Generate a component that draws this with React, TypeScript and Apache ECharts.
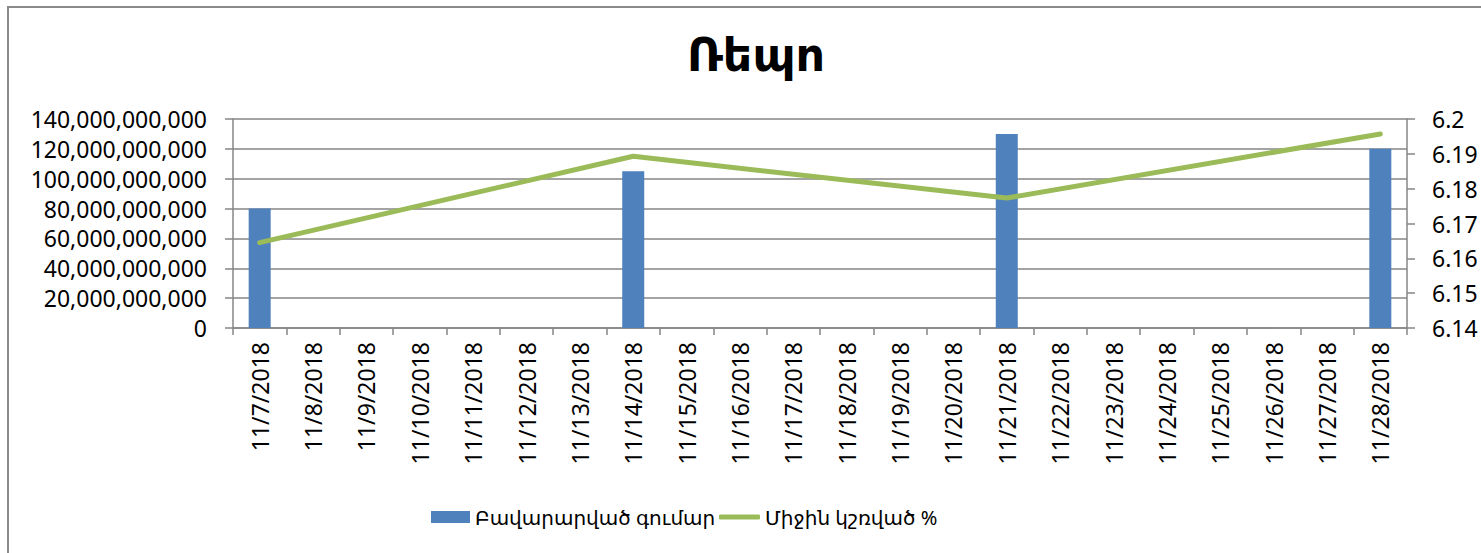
import React, { useEffect, useRef } from "react";
import * as echarts from "echarts";

const categories = [
  "11/7/2018", "11/8/2018", "11/9/2018", "11/10/2018", "11/11/2018", "11/12/2018",
  "11/13/2018", "11/14/2018", "11/15/2018", "11/16/2018", "11/17/2018", "11/18/2018",
  "11/19/2018", "11/20/2018", "11/21/2018", "11/22/2018", "11/23/2018", "11/24/2018",
  "11/25/2018", "11/26/2018", "11/27/2018", "11/28/2018",
];
const barDates = ["11/7/2018", "11/14/2018", "11/21/2018", "11/28/2018"];
const barValues = [80000000000, 105000000000, 130000000000, 120000000000];
const lineValues = [6.1645, 6.1893, 6.1773, 6.1957];
const leftTicks = { min: 0, max: 140000000000, interval: 20000000000 };
const rightTicks = { min: 6.14, max: 6.2, interval: 0.01 };
const barName = "Բավարարված գումար";
const lineName = "Միջին կշռված %";
const title = "Ռեպո";

const FONT = "'Noto Sans', 'DejaVu Sans', sans-serif";

export default function App() {
  const ref = useRef<HTMLDivElement>(null);
  useEffect(() => {
    if (!ref.current) return;
    const chart = echarts.init(ref.current, undefined, { renderer: "svg" });
    const barData = categories.map((c) => {
      const i = barDates.indexOf(c);
      return i >= 0 ? barValues[i] : null;
    });
    const lineData = categories.map((c) => {
      const i = barDates.indexOf(c);
      return i >= 0 ? lineValues[i] : null;
    });
    const fmt = (v: number) => v.toLocaleString("en-US");
    chart.setOption({
      animation: false,
      backgroundColor: "#ffffff",
      textStyle: { fontFamily: FONT },
      title: {
        text: title,
        left: 682,
        top: 25,
        textStyle: { fontFamily: FONT, fontSize: 46, fontWeight: "bold", color: "#000" },
      },
      graphic: [
        {
          type: "rect",
          shape: { x: 8, y: 7, width: 1490, height: 560 },
          style: { fill: "none", stroke: "#8a8a8a", lineWidth: 2 },
          silent: true,
        },
      ],
      legend: [
        {
          left: 426,
          top: 502,
          itemWidth: 39,
          itemHeight: 12,
          textStyle: { fontFamily: FONT, fontSize: 20, color: "#000" },
          data: [{ name: barName, icon: "rect" }],
        },
        {
          left: 714,
          top: 502,
          itemWidth: 41,
          itemHeight: 5,
          textStyle: { fontFamily: FONT, fontSize: 20, color: "#000" },
          data: [{ name: lineName, icon: "roundRect" }],
        },
      ],
      grid: { left: 233, right: 74, top: 119, bottom: 225, containLabel: false },
      xAxis: {
        type: "category",
        data: categories,
        boundaryGap: true,
        axisLine: { lineStyle: { color: "#868686", width: 1.5 } },
        axisTick: { show: true, length: 7, interval: 0, lineStyle: { color: "#868686", width: 1.5 } },
        axisLabel: {
          rotate: 90,
          interval: 0,
          margin: 14,
          fontFamily: FONT,
          fontSize: 23,
          color: "#000",
        },
      },
      yAxis: [
        {
          type: "value",
          min: leftTicks.min,
          max: leftTicks.max,
          interval: leftTicks.interval,
          position: "left",
          axisLine: { show: true, lineStyle: { color: "#868686", width: 1.5 } },
          axisTick: { show: true, length: 8, lineStyle: { color: "#868686", width: 1.5 } },
          splitLine: { show: true, lineStyle: { color: "#868686", width: 1.5 } },
          axisLabel: {
            margin: 26,
            fontFamily: FONT,
            fontSize: 23,
            color: "#000",
            formatter: (v: number) => fmt(v),
          },
        },
        {
          type: "value",
          min: rightTicks.min,
          max: rightTicks.max,
          interval: rightTicks.interval,
          position: "right",
          axisLine: { show: true, lineStyle: { color: "#868686", width: 1.5 } },
          axisTick: { show: true, length: 8, lineStyle: { color: "#868686", width: 1.5 } },
          splitLine: { show: false },
          axisLabel: {
            margin: 25,
            fontFamily: FONT,
            fontSize: 23,
            color: "#000",
            formatter: (v: number) => String(parseFloat(v.toFixed(2))),
          },
        },
      ],
      series: [
        {
          name: barName,
          type: "bar",
          data: barData,
          barWidth: 22,
          itemStyle: { color: "#4F81BD" },
          yAxisIndex: 0,
        },
        {
          name: lineName,
          type: "line",
          data: lineData,
          yAxisIndex: 1,
          connectNulls: true,
          symbol: "none",
          showSymbol: false,
          lineStyle: { color: "#9BBB59", width: 5, cap: "round" },
          itemStyle: { color: "#9BBB59" },
        },
      ],
    });
    return () => chart.dispose();
  }, []);
  return (
    <div
      ref={ref}
      style={{ position: "fixed", left: 0, top: 0, width: 1481, height: 553, background: "#fff" }}
    />
  );
}
